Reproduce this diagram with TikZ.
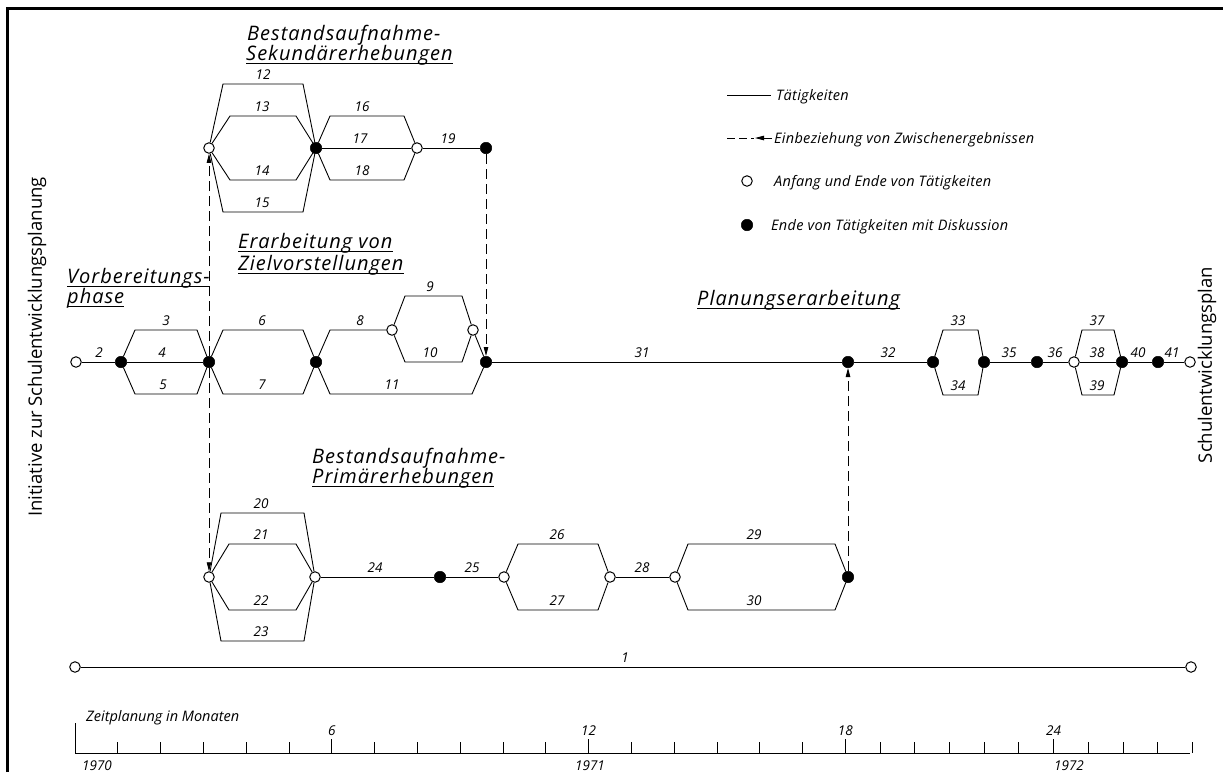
\documentclass[tikz,border=0pt]{standalone}
\usepackage{fontspec}
\setmainfont{Open Sans}
\newfontfamily\ttlfam[LetterSpace=5]{Open Sans}
\newfontfamily\legfam[LetterSpace=2]{Open Sans}
\usetikzlibrary{arrows.meta}
\newcommand\myttl{\ttlfam\itshape\fontsize{20}{22}\selectfont}
\newcommand\mynum{\itshape\fontsize{13.5}{15}\selectfont}
\newcommand\myleg{\legfam\itshape\fontsize{14.5}{16}\selectfont}
\newcommand\myvert{\fontsize{18.5}{20}\selectfont}
\tikzset{
  op/.style={circle, draw, fill=white, minimum size=10.5pt, inner sep=0pt, line width=1pt},
  cl/.style={circle, draw, fill=black, minimum size=11.5pt, inner sep=0pt, line width=0.5pt},
  act/.style={line width=0.9pt},
  dep/.style={line width=0.9pt, dash pattern=on 10pt off 5pt, -{Triangle[length=9pt,width=4.5pt]}},
  num/.style={font=\mynum, inner sep=0pt, anchor=base},
  ttl/.style={font=\myttl, inner sep=0pt, anchor=base west},
  leg/.style={font=\myleg, inner sep=0pt, anchor=base west},
  ul/.style={line width=0.9pt}
}
\begin{document}
\begin{tikzpicture}[x=1pt,y=-1pt]
\useasboundingbox (0,0) rectangle (1223,772);
\fill[white] (0,0) rectangle (1223,772);
\draw[line width=3pt] (7,772) -- (7,8) -- (1223,8);

% ---------- nodes ----------
% top row
\node[op] (s1) at (209,148) {};
\node[cl] (s2) at (316,148) {};
\node[op] (s3) at (417,148) {};
\node[cl] (s4) at (486,148) {};
% main row
\node[op] (m0) at (76,362) {};
\node[cl] (m1) at (121,362) {};
\node[cl] (m2) at (209,362) {};
\node[cl] (m3) at (316,362) {};
\node[op] (m9a) at (392,330) {};
\node[op] (m9b) at (473,330) {};
\node[cl] (m4) at (486,362) {};
\node[cl] (m5) at (848,362) {};
\node[cl] (m6) at (933,362) {};
\node[cl] (m7) at (984,362) {};
\node[cl] (m8) at (1037,362) {};
\node[op] (m10) at (1074,362) {};
\node[cl] (m11) at (1122,362) {};
\node[cl] (m12) at (1158,362) {};
\node[op] (m13) at (1190,362) {};
% bottom row
\node[op] (b1) at (209,577) {};
\node[op] (b2) at (315,577) {};
\node[cl] (b3) at (440,577) {};
\node[op] (b4) at (504,577) {};
\node[op] (b5) at (610,577) {};
\node[op] (b6) at (675,577) {};
\node[cl] (b7) at (848,577) {};
% overall line
\node[op] (e1) at (75,667) {};
\node[op] (e2) at (1191,667) {};

% ---------- activities ----------
% top
\draw[act] (s1) -- (223,84) -- (303,84) -- (s2);
\draw[act] (s1) -- (230,116) -- (296,116) -- (s2);
\draw[act] (s1) -- (230,180) -- (296,180) -- (s2);
\draw[act] (s1) -- (223,212) -- (303,212) -- (s2);
\draw[act] (s2) -- (330,116) -- (404,116) -- (s3);
\draw[act] (s2) -- (s3);
\draw[act] (s2) -- (330,180) -- (404,180) -- (s3);
\draw[act] (s3) -- (s4);
% main
\draw[act] (m0) -- (m1);
\draw[act] (m1) -- (135,330) -- (197,330) -- (m2);
\draw[act] (m1) -- (m2);
\draw[act] (m1) -- (135,394) -- (197,394) -- (m2);
\draw[act] (m2) -- (223,330) -- (303,330) -- (m3);
\draw[act] (m2) -- (223,394) -- (303,394) -- (m3);
\draw[act] (m3) -- (330,330) -- (m9a);
\draw[act] (m9a) -- (405,296) -- (462,296) -- (m9b);
\draw[act] (m9a) -- (405,362) -- (462,362) -- (m9b);
\draw[act] (m9b) -- (m4);
\draw[act] (m3) -- (330,394) -- (472,394) -- (m4);
\draw[act] (m4) -- (m5);
\draw[act] (m5) -- (m6);
\draw[act] (m6) -- (943,330) -- (978,330) -- (m7);
\draw[act] (m6) -- (943,395) -- (978,395) -- (m7);
\draw[act] (m7) -- (m8);
\draw[act] (m8) -- (m10);
\draw[act] (m10) -- (1082,330) -- (1114,330) -- (m11);
\draw[act] (m10) -- (m11);
\draw[act] (m10) -- (1082,395) -- (1114,395) -- (m11);
\draw[act] (m11) -- (m12);
\draw[act] (m12) -- (m13);
% bottom
\draw[act] (b1) -- (221,513) -- (304,513) -- (b2);
\draw[act] (b1) -- (229,544) -- (296,544) -- (b2);
\draw[act] (b1) -- (229,610) -- (296,610) -- (b2);
\draw[act] (b1) -- (221,641) -- (304,641) -- (b2);
\draw[act] (b2) -- (b3);
\draw[act] (b3) -- (b4);
\draw[act] (b4) -- (518,544) -- (598,544) -- (b5);
\draw[act] (b4) -- (518,610) -- (598,610) -- (b5);
\draw[act] (b5) -- (b6);
\draw[act] (b6) -- (688,544) -- (835,544) -- (b7);
\draw[act] (b6) -- (688,610) -- (835,610) -- (b7);
\draw[act] (e1) -- (e2);

% ---------- dependencies ----------
\draw[dep] (m2) -- (s1);
\draw[dep] (m2) -- (b1);
\draw[dep] (s4) -- (m4);
\draw[dep] (b7) -- (m5);

% ---------- activity numbers ----------
\node[num] (n12) at (263,79) {12};
\node[num] (n13) at (262,111.5) {13};
\node[num] (n14) at (262,175.5) {14};
\node[num] (n15) at (262,207) {15};
\node[num] (n16) at (362,111.5) {16};
\node[num] (n17) at (360,143.5) {17};
\node[num] (n18) at (362,175.5) {18};
\node[num] (n19) at (448,143.5) {19};
\node[num] (n2) at (99,357.5) {2};
\node[num] (n3) at (166,325.5) {3};
\node[num] (n4) at (162,357.5) {4};
\node[num] (n5) at (163,389) {5};
\node[num] (n6) at (262,325.5) {6};
\node[num] (n7) at (262,389) {7};
\node[num] (n8) at (360,325.5) {8};
\node[num] (n9) at (430,291) {9};
\node[num] (n10) at (430,357.5) {10};
\node[num] (n11) at (392,389) {11};
\node[num] (n31) at (642,357.5) {31};
\node[num] (n32) at (888,357.5) {32};
\node[num] (n33) at (958,325.5) {33};
\node[num] (n34) at (958,390) {34};
\node[num] (n35) at (1009,357.5) {35};
\node[num] (n36) at (1055,357.5) {36};
\node[num] (n37) at (1097,325.5) {37};
\node[num] (n38) at (1097,357.5) {38};
\node[num] (n39) at (1097,390) {39};
\node[num] (n40) at (1138,357.5) {40};
\node[num] (n41) at (1172,357.5) {41};
\node[num] (n20) at (261,508) {20};
\node[num] (n21) at (261,539) {21};
\node[num] (n22) at (261,605) {22};
\node[num] (n23) at (261,636) {23};
\node[num] (n24) at (375,572.5) {24};
\node[num] (n25) at (472,572.5) {25};
\node[num] (n26) at (557,539.5) {26};
\node[num] (n27) at (557,605) {27};
\node[num] (n28) at (642,572.5) {28};
\node[num] (n29) at (754,539.5) {29};
\node[num] (n30) at (754,605) {30};
\node[num] (n1) at (625,662.5) {1};

% ---------- phase titles ----------
\node[ttl] (t1a) at (247,40) {Bestandsaufnahme-};
\node[ttl] (t1b) at (246,60) {Sekundärerhebungen};
\draw[ul] ([yshift=-3pt]t1b.base west) -- ([yshift=-3pt]t1b.base east);
\node[ttl] (t2a) at (67,283) {Vorbereitungs-};
\draw[ul] ([yshift=-3pt]t2a.base west) -- ([yshift=-3pt]t2a.base east);
\node[ttl] (t2b) at (67,303) {phase};
\draw[ul] ([yshift=-3pt]t2b.base west) -- ([yshift=-3pt]t2b.base east);
\node[ttl] (t3a) at (238,248) {Erarbeitung von};
\draw[ul] ([yshift=-3pt]t3a.base west) -- ([yshift=-3pt]t3a.base east);
\node[ttl] (t3b) at (238,270) {Zielvorstellungen};
\draw[ul] ([yshift=-3pt]t3b.base west) -- ([yshift=-3pt]t3b.base east);
\node[ttl] (t4) at (697,305) {Planungserarbeitung};
\draw[ul] ([yshift=-3pt]t4.base west) -- ([yshift=-3pt]t4.base east);
\node[ttl] (t5a) at (312,463) {Bestandsaufnahme-};
\node[ttl] (t5b) at (312,483) {Primärerhebungen};
\draw[ul] ([yshift=-3pt]t5b.base west) -- ([yshift=-3pt]t5b.base east);

% ---------- side labels ----------
\node[font=\myvert, rotate=90, inner sep=0pt] (vl) at (37,347) {Initiative zur Schulentwicklungsplanung};
\node[font=\myvert, rotate=90, inner sep=0pt] (vr) at (1207,365) {Schulentwicklungsplan};

% ---------- legend ----------
\coordinate (la1) at (727,95);
\coordinate (la2) at (771,95);
\draw[act] (la1) -- (la2);
\node[leg] (l1) at (776,100) {Tätigkeiten};
\coordinate (lb1) at (727,138);
\coordinate (lb2) at (754,138);
\coordinate (lb3) at (772,138);
\coordinate (lb4) at (755,138);
\draw[act, dash pattern=on 8pt off 4pt] (lb1) -- (lb2);
\draw[act, -{Triangle[length=9pt,width=4.5pt]}] (lb3) -- (lb4);
\node[leg] (l2) at (774,143) {Einbeziehung von Zwischenergebnissen};
\node[op] (lo) at (747,181) {};
\node[leg] (l3) at (774,186) {Anfang und Ende von Tätigkeiten};
\node[cl] (lc) at (747,225) {};
\node[leg] (l4) at (771,230) {Ende von Tätigkeiten mit Diskussion};

% ---------- time axis ----------
\draw[act] (75,723) -- (75,753) -- (1190,753);
\foreach \m in {1,...,18} {
  \pgfmathsetmacro\xx{75+42.8*\m}
  \draw[act] (\xx,753) -- (\xx,742);
}
\foreach \m in {19,...,28} {
  \pgfmathsetmacro\xx{845.4+34.7*(\m-18)}
  \draw[act] (\xx,753) -- (\xx,742);
}
\foreach \m/\xx in {6/331.8,12/588.6,18/845.4,24/1053.6} {
  \draw[act] (\xx,742) -- (\xx,739);
  \node[num] at (\xx,735) {\m};
}
\node[leg, font=\itshape\fontsize{14.5}{16}\selectfont] (zt) at (86,721) {Zeitplanung in Monaten};
\node[num] (y70) at (97,770) {1970};
\node[num] (y71) at (590,770) {1971};
\node[num] (y72) at (1069,770) {1972};
\end{tikzpicture}
\end{document}
